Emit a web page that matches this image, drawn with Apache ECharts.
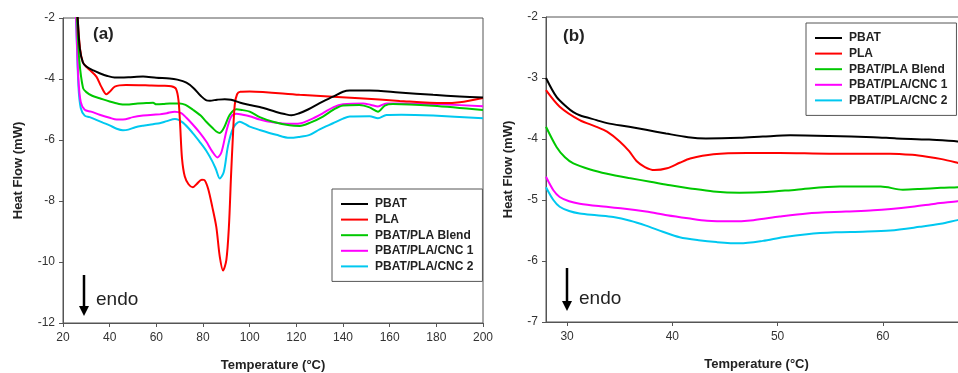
<!DOCTYPE html>
<html>
<head>
<meta charset="utf-8">
<script src="https://cdn.jsdelivr.net/npm/echarts@6/dist/echarts.min.js"></script>
<style>html,body{margin:0;padding:0;background:#fff}#c{width:958px;height:373px}</style>
</head>
<body>
<div id="c"></div>
<script>
// ---- data: panel (a) full scan, [temperature °C, heat flow mW]
var seriesNames = ['PBAT', 'PLA', 'PBAT/PLA Blend', 'PBAT/PLA/CNC 1', 'PBAT/PLA/CNC 2'];
var seriesColors = ['#000000', '#ff0000', '#00c800', '#ff00ff', '#00c8f0'];
var xTicksA = [20, 40, 60, 80, 100, 120, 140, 160, 180, 200];
var yTicksA = [-12, -10, -8, -6, -4, -2];
var xTicksB = [30, 40, 50, 60, 70];
var yTicksB = [-7, -6, -5, -4, -3, -2];

var a_PBAT = [[25.2,0],[26.3,-2],[27.2,-3.0],[28.5,-3.45],[30,-3.59],[33,-3.72],[35.7,-3.81],[39,-3.9],[42.1,-3.95],[48,-3.94],[54.3,-3.92],[60,-3.96],[65.7,-3.98],[69,-4.02],[72.9,-4.12],[76,-4.3],[79,-4.55],[81.5,-4.7],[83,-4.71],[86,-4.68],[89.3,-4.66],[92,-4.68],[96,-4.78],[100,-4.85],[104.3,-4.92],[111.4,-5.08],[115,-5.15],[117.9,-5.19],[121,-5.13],[125,-5.0],[130,-4.79],[135.7,-4.58],[140,-4.42],[142.9,-4.38],[151.4,-4.38],[164,-4.44],[178.6,-4.52],[190,-4.57],[200,-4.61]];
var a_PLA = [[25.2,0],[26.3,-2],[27.3,-3.0],[28.5,-3.45],[30,-3.6],[31.4,-3.7],[34.3,-3.92],[36.4,-4.25],[38.6,-4.5],[40,-4.42],[42.2,-4.25],[47,-4.2],[57,-4.21],[62.9,-4.22],[66.4,-4.24],[68.4,-4.32],[69.5,-4.7],[70.2,-5.5],[71,-6.6],[72.2,-7.2],[73.8,-7.45],[75.6,-7.55],[77.2,-7.45],[79.5,-7.3],[80.7,-7.32],[82.2,-7.6],[84,-8.2],[85.7,-8.85],[87.2,-9.83],[88.6,-10.28],[90,-9.94],[91.1,-8.85],[92,-7.2],[92.8,-5.9],[93.6,-4.85],[94.6,-4.5],[96,-4.42],[100,-4.41],[121.4,-4.52],[135.7,-4.58],[147,-4.63],[164.3,-4.72],[182.9,-4.79],[190,-4.76],[200,-4.62]];
var a_Blend = [[25.0,0],[26,-2],[27,-3.4],[28.6,-4.3],[30,-4.43],[32.5,-4.55],[35.7,-4.63],[40,-4.74],[44,-4.82],[47.2,-4.84],[52,-4.8],[55.7,-4.79],[58.6,-4.78],[60,-4.83],[62.9,-4.82],[65.7,-4.8],[70,-4.8],[72.5,-4.85],[75.7,-5.01],[79,-5.2],[81.4,-5.4],[84,-5.6],[85.7,-5.72],[87.2,-5.77],[89,-5.6],[91.4,-5.18],[94.3,-4.99],[97,-5.02],[100,-5.07],[104.3,-5.25],[110,-5.4],[117.1,-5.52],[121.4,-5.54],[126,-5.43],[131.4,-5.23],[136,-5.0],[140,-4.87],[147,-4.85],[151.4,-4.93],[155,-5.07],[157.9,-4.87],[161.4,-4.82],[178.6,-4.88],[200,-5.02]];
var a_CNC1 = [[24.6,0],[25.6,-2],[26.6,-4.0],[27.6,-4.75],[29.3,-5.01],[32,-5.07],[35.7,-5.17],[40,-5.27],[43,-5.33],[45.7,-5.33],[50,-5.25],[54.3,-5.2],[58.6,-5.17],[61.4,-5.16],[64.5,-5.12],[67.9,-5.07],[70.7,-5.12],[73,-5.28],[75.7,-5.5],[78.5,-5.75],[81.4,-6.05],[84,-6.38],[86.2,-6.57],[87.9,-6.4],[90,-5.72],[92.1,-5.23],[94.3,-5.14],[97,-5.17],[100,-5.22],[104.3,-5.33],[110,-5.42],[117.1,-5.47],[121.4,-5.46],[126,-5.33],[131.4,-5.12],[136,-4.92],[140,-4.83],[148.6,-4.8],[152,-4.85],[155,-4.9],[158.6,-4.8],[165,-4.8],[178.6,-4.82],[200,-4.89]];
var a_CNC2 = [[24.6,0],[25.6,-2],[26.6,-4.2],[27.6,-4.95],[29.3,-5.2],[31.4,-5.25],[34,-5.33],[37.1,-5.43],[40,-5.52],[43,-5.63],[45.7,-5.68],[48,-5.66],[51,-5.58],[54.3,-5.53],[58.6,-5.48],[61.4,-5.45],[64.5,-5.38],[68,-5.31],[71.4,-5.43],[75.7,-5.78],[78.5,-6.05],[81.4,-6.35],[84,-6.7],[85.5,-6.95],[87.2,-7.26],[88.9,-7.05],[90.7,-6.2],[92.9,-5.61],[95.7,-5.4],[100,-5.56],[104.3,-5.67],[111.4,-5.83],[117.1,-5.93],[121,-5.9],[125.7,-5.83],[130,-5.65],[135.7,-5.45],[140,-5.3],[142.9,-5.23],[151.4,-5.22],[155,-5.29],[158.6,-5.18],[165,-5.17],[178.6,-5.2],[200,-5.29]];

// ---- data: panel (b) magnified low-temperature region
var b_PBAT = [[28,-3.0],[29,-3.31],[30,-3.48],[30.6,-3.56],[31.2,-3.61],[32.8,-3.69],[33.8,-3.74],[35.9,-3.8],[37.5,-3.85],[39.4,-3.91],[41.5,-3.97],[43.2,-3.99],[46.4,-3.98],[48.6,-3.96],[51.2,-3.94],[54.9,-3.95],[59.1,-3.97],[61.3,-3.99],[64.4,-4.01],[67.1,-4.04],[68,-4.05]];
var b_PLA = [[28,-3.2],[29.3,-3.47],[31.2,-3.69],[32.8,-3.8],[33.8,-3.88],[35.0,-4.04],[35.9,-4.2],[36.6,-4.36],[37.4,-4.46],[38.3,-4.51],[39.5,-4.48],[40.7,-4.39],[41.7,-4.32],[43.9,-4.25],[47.1,-4.23],[50.2,-4.23],[54.9,-4.24],[58.1,-4.24],[60.7,-4.24],[62.8,-4.26],[64.2,-4.29],[65.6,-4.33],[67.1,-4.39],[68,-4.43]];
var b_Blend = [[28,-3.8],[29,-4.13],[29.8,-4.3],[30.6,-4.4],[32.2,-4.5],[33.8,-4.57],[35.9,-4.64],[37.9,-4.7],[39.8,-4.76],[41.7,-4.81],[43.9,-4.86],[46.4,-4.88],[48.9,-4.87],[51.8,-4.83],[55.9,-4.78],[59.8,-4.78],[61.9,-4.83],[63.5,-4.82],[65.5,-4.8],[67.1,-4.79],[68,-4.78]];
var b_CNC1 = [[28,-4.62],[28.7,-4.84],[29.3,-4.95],[30.2,-5.02],[31.2,-5.06],[33,-5.1],[35.3,-5.14],[37.5,-5.19],[39.5,-5.25],[41.5,-5.3],[43.3,-5.34],[45.5,-5.35],[47.7,-5.33],[50.2,-5.27],[52.8,-5.22],[56.5,-5.19],[59.1,-5.17],[62.8,-5.11],[65,-5.06],[67.1,-5.02],[68,-5.0]];
var b_CNC2 = [[28,-4.79],[28.7,-5.0],[29.3,-5.11],[30.2,-5.18],[31.2,-5.22],[32.8,-5.25],[34.4,-5.28],[36.0,-5.34],[37.5,-5.42],[39.1,-5.52],[40.7,-5.61],[42.5,-5.66],[44.2,-5.69],[46.4,-5.71],[48.6,-5.67],[50.5,-5.61],[52.8,-5.56],[55.5,-5.53],[58.1,-5.52],[60.7,-5.5],[63.5,-5.44],[65.5,-5.39],[67.1,-5.33],[68,-5.3]];

var dataA = [a_PBAT, a_PLA, a_Blend, a_CNC1, a_CNC2];
var dataB = [b_PBAT, b_PLA, b_Blend, b_CNC1, b_CNC2];

var FONT = 'Liberation Sans, Arial, sans-serif';
var AX = '#555';

function xAxis(gi, min, max, ticks) {
  return {
    type: 'value', gridIndex: gi, min: min, max: max,
    name: 'Temperature (°C)', nameLocation: 'middle', nameGap: 36,
    nameTextStyle: {fontFamily: FONT, fontWeight: 'bold', fontSize: 13, color: '#222'},
    axisLine: {show: true, onZero: false, lineStyle: {color: AX, width: 1}},
    axisTick: {show: true, length: 4, lineStyle: {color: AX}, customValues: ticks},
    axisLabel: {fontFamily: FONT, fontSize: 12, color: '#333', margin: 9, customValues: ticks},
    splitLine: {show: false}
  };
}
function yAxis(gi, min, max, ticks, gap) {
  return {
    type: 'value', gridIndex: gi, min: min, max: max,
    name: 'Heat Flow (mW)', nameLocation: 'middle', nameGap: gap, nameRotate: 90,
    nameTextStyle: {fontFamily: FONT, fontWeight: 'bold', fontSize: 13, color: '#222'},
    axisLine: {show: true, onZero: false, lineStyle: {color: AX, width: 1}},
    axisTick: {show: true, length: 4, lineStyle: {color: AX}, customValues: ticks},
    axisLabel: {fontFamily: FONT, fontSize: 12, color: '#333', margin: 8, customValues: ticks},
    splitLine: {show: false}
  };
}

var series = [];
for (var p = 0; p < 2; p++) {
  var d = p === 0 ? dataA : dataB;
  for (var i = 0; i < 5; i++) {
    series.push({
      type: 'line', name: seriesNames[i], xAxisIndex: p, yAxisIndex: p,
      data: d[i], showSymbol: false, symbol: 'none', smooth: 0.3,
      clip: true, animation: false,
      lineStyle: {color: seriesColors[i], width: 2}, itemStyle: {color: seriesColors[i]},
      z: 10 - i
    });
  }
}

function legend(left, top) {
  return {
    orient: 'vertical', left: left, top: top, data: seriesNames,
    icon: 'rect', itemWidth: 27, itemHeight: 2, itemGap: 1.6,
    padding: [8, 9, 8, 9], borderColor: '#555', borderWidth: 1, backgroundColor: '#fff',
    textStyle: {fontFamily: FONT, fontWeight: 'bold', fontSize: 12, color: '#222', lineHeight: 14, padding: [0, 0, 0, 2]},
    selectedMode: false
  };
}

function arrow(x, y1, y2) {
  return [
    {type: 'line', shape: {x1: x, y1: y1, x2: x, y2: y2 - 6}, style: {stroke: '#000', lineWidth: 2.5}},
    {type: 'polygon', shape: {points: [[x - 5, y2 - 10], [x + 5, y2 - 10], [x, y2]]}, style: {fill: '#000'}}
  ];
}

var graphics = [
  {type: 'text', left: 93, top: 26, style: {text: '(a)', font: 'bold 17px ' + FONT, fill: '#222'}},
  {type: 'text', left: 563, top: 28, style: {text: '(b)', font: 'bold 17px ' + FONT, fill: '#222'}},
  {type: 'text', left: 96, top: 290, style: {text: 'endo', font: '19px ' + FONT, fill: '#222'}},
  {type: 'text', left: 579, top: 289, style: {text: 'endo', font: '19px ' + FONT, fill: '#222'}}
].concat(arrow(84, 275, 316)).concat(arrow(567, 268, 311));

var option = {
  animation: false,
  backgroundColor: '#fff',
  grid: [
    {left: 63, top: 18, width: 420, height: 305, containLabel: false, outerBoundsMode: 'none', show: true, borderColor: AX, borderWidth: 1, backgroundColor: 'transparent'},
    {left: 546, top: 17, width: 421, height: 305, containLabel: false, outerBoundsMode: 'none', show: true, borderColor: AX, borderWidth: 1, backgroundColor: 'transparent'}
  ],
  xAxis: [xAxis(0, 20, 200, xTicksA), xAxis(1, 28, 68, xTicksB)],
  yAxis: [yAxis(0, -12, -2, yTicksA, 38), yAxis(1, -7, -2, yTicksB, 31)],
  legend: [legend(332, 189), legend(806, 23)],
  series: series,
  graphic: graphics
};

var chart = echarts.init(document.getElementById('c'), null, {renderer: 'canvas'});
chart.setOption(option);
</script>
</body>
</html>
